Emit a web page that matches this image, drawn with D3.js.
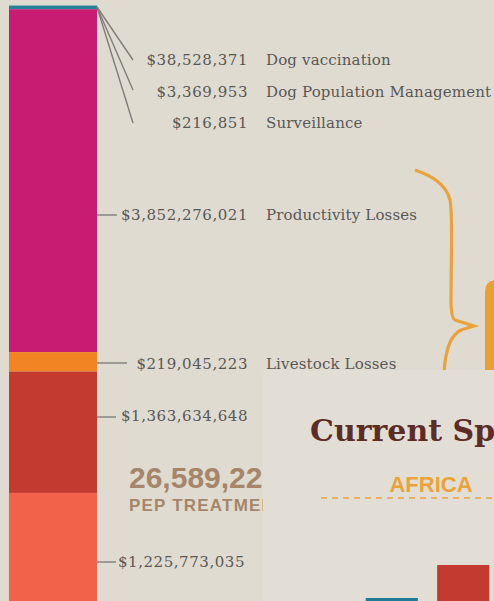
<!DOCTYPE html>
<html><head><meta charset="utf-8">
<script src="https://cdn.jsdelivr.net/npm/d3@7"></script>
<style>html,body{margin:0;padding:0;background:#e0dbd1;overflow:hidden}svg{display:block}</style>
</head><body>
<svg id="c" width="494" height="601"></svg>
<script>
// ---- data (top of stack first) ----
const categories = ["Surveillance","Dog Population Management","Dog vaccination","Productivity Losses","Livestock Losses","Other cost A","Other cost B"];
const values = [216851, 3369953, 38528371, 3852276021, 219045223, 1363634648, 1225773035];
const segmentColors = ["#27809a","#27809a","#27809a","#c81b72","#f28424","#c23a30","#f2614a"];
const labelNames = ["Surveillance","Dog Population Management","Dog vaccination","Productivity Losses","Livestock Losses","",""];
const pepValue = "26,589,221";
const pepLabel = "PEP TREATMENTS";
const sectionTitle = "Current Spending";
const regionName = "AFRICA";
const spendCategories = ["Dog vaccination","PEP"];
const spendValues = [3, 36];

// ---- layout (not data) ----
const svg = d3.select("#c");
const W = 494, H = 601;
const total = d3.sum(values);
const y = d3.scaleLinear().domain([0,total]).range([5.5,602]);
const x = d3.scaleBand().domain(["cost"]).range([9,97]).padding(0);
const fmt = v => "$" + d3.format(",")(v);

let cum = 0;
const segs = values.map((v,i)=>{const s={i,v,y0:cum,y1:cum+v};cum+=v;return s;});

svg.append("g").selectAll("rect").data(segs).join("rect")
  .attr("x", x("cost")).attr("width", x.bandwidth())
  .attr("y", d=>y(d.y0)).attr("height", d=>y(d.y1)-y(d.y0))
  .attr("fill", d=>segmentColors[d.i]);

const labelLayout = [
  {i:2, cy:60,  lx:133, ly:60,  tx:248, anchor:"end", fan:true},
  {i:1, cy:92,  lx:133, ly:90,  tx:248, anchor:"end", fan:true},
  {i:0, cy:123, lx:133, ly:123, tx:248, anchor:"end", fan:true},
  {i:3, cy:215, lx:117, ly:215, tx:248, anchor:"end"},
  {i:4, cy:364, lx:127, ly:363, tx:248, anchor:"end"},
  {i:5, cy:416, lx:116, ly:417, tx:248, anchor:"end"},
  {i:6, cy:562, lx:116, ly:562, tx:118, anchor:"start"}
];
const serif = "'DejaVu Serif', serif";
const lg = svg.append("g");
labelLayout.forEach(L=>{
  const x0 = x("cost")+x.bandwidth();
  const y0 = L.fan ? y(0)+1.5 : L.ly;
  lg.append("line").attr("x1",x0).attr("y1",y0).attr("x2",L.lx).attr("y2",L.ly)
    .attr("stroke","#7e7e7a").attr("stroke-width",1.4);
  lg.append("text").attr("x",L.tx).attr("y",L.cy+5).attr("text-anchor",L.anchor)
    .attr("font-family",serif).attr("font-size",15).attr("letter-spacing",0.55).attr("fill","#585856")
    .text(fmt(values[L.i]));
  if(labelNames[L.i]) lg.append("text").attr("x",266).attr("y",L.cy+5)
    .attr("font-family",serif).attr("font-size",15).attr("letter-spacing",0.15).attr("fill","#585856")
    .text(labelNames[L.i]);
});

// PEP big number
svg.append("text").attr("x",129).attr("y",488).attr("font-family","'Liberation Sans',Arial,sans-serif")
  .attr("font-weight","bold").attr("font-size",30).attr("fill","#a5866a").text(pepValue);
svg.append("text").attr("x",129).attr("y",511).attr("font-family","'Liberation Sans',Arial,sans-serif")
  .attr("font-weight","bold").attr("font-size",17).attr("letter-spacing",1.2).attr("fill","#a5866a").text(pepLabel);

// bracket
svg.append("path")
  .attr("d","M415,170 C432,176 446,184 450,200 C453,215 451,260 451,300 C451,310 452,318 455,320 L474,326 L461,330 C452,335 446,345 444,372")
  .attr("fill","none").attr("stroke","#e9a33a").attr("stroke-width",3.2).attr("stroke-linejoin","miter");
svg.append("path").attr("d","M485,372 L485,292 Q485,280 497,280 L497,372 Z").attr("fill","#e9a032");

// lower-right panel
const pg = svg.append("g");
pg.append("rect").attr("x",263).attr("y",370).attr("width",W-263).attr("height",H-370).attr("fill","#e3ded5");
pg.append("text").attr("x",310).attr("y",441).attr("font-family",serif).attr("font-weight","bold")
  .attr("font-size",30).attr("fill","#5c2c25").text(sectionTitle);
pg.append("text").attr("x",431).attr("y",492).attr("text-anchor","middle").attr("font-family","'Liberation Sans',Arial,sans-serif")
  .attr("font-weight","bold").attr("font-size",22).attr("fill","#e9a33a").text(regionName);
pg.append("line").attr("x1",321).attr("x2",W).attr("y1",498).attr("y2",498)
  .attr("stroke","#e9a33a").attr("stroke-width",1.5).attr("stroke-dasharray","6,5");
const sx = d3.scaleBand().domain(spendCategories).range([355,500]).paddingInner(0.27).paddingOuter(0.15);
const sy = d3.scaleLinear().domain([0,36]).range([601,565]);
pg.selectAll("rect.sp").data(spendCategories).join("rect").attr("class","sp")
  .attr("x",d=>sx(d)).attr("width",sx.bandwidth())
  .attr("y",(d,i)=>sy(spendValues[i])).attr("height",(d,i)=>601-sy(spendValues[i]))
  .attr("fill",(d,i)=>i===0?"#1f7a93":"#c23a30");
</script>
</body></html>
